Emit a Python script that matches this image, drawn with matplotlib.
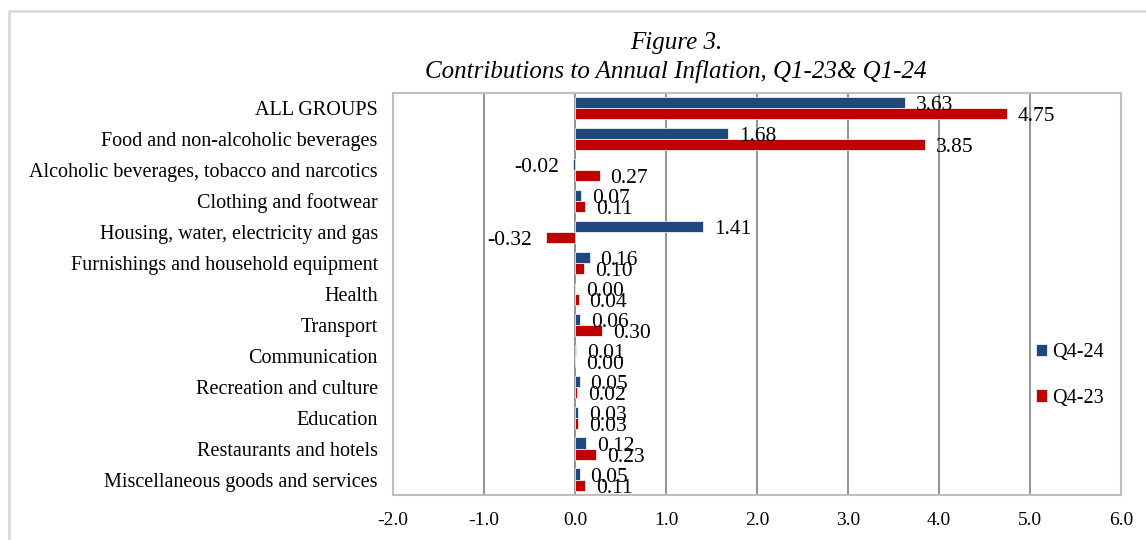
## --- CONTRIBUTIONS TO ANNUAL INFLATION --- ##
import matplotlib.pyplot as plt
import numpy as np
from matplotlib.patches import Rectangle

# -- DATA -- #
categories = ['ALL GROUPS', 'Food and non-alcoholic beverages',
              'Alcoholic beverages, tobacco and narcotics', 'Clothing and footwear',
              'Housing, water, electricity and gas', 'Furnishings and household equipment',
              'Health', 'Transport', 'Communication', 'Recreation and culture',
              'Education', 'Restaurants and hotels', 'Miscellaneous goods and services']
q4_24 = [3.63, 1.68, -0.02, 0.07, 1.41, 0.16, 0.00, 0.06, 0.01, 0.05, 0.03, 0.12, 0.05]
q4_23 = [4.75, 3.85, 0.27, 0.11, -0.32, 0.10, 0.04, 0.30, 0.00, 0.02, 0.03, 0.23, 0.11]
series_names = ['Q4-24', 'Q4-23']
xticks = np.arange(-2, 7, 1)

# -- STYLE -- #
plt.rcParams['font.family'] = ['Liberation Serif', 'DejaVu Serif']
blue = '#1f497d'
red = '#c00000'

fig = plt.figure(figsize=(11.46, 5.4), dpi=100)
ax = fig.add_axes([0.343, 0.0833, 0.635, 0.745])

# outer light border
fig.patches.append(Rectangle((0.008, -0.1), 1.1, 1.08, transform=fig.transFigure,
                             fill=False, edgecolor='#d9d9d9', linewidth=2))

n = len(categories)
y = np.arange(n)
h = 0.36
ax.barh(y - h / 2, q4_24, height=h, color=blue, edgecolor='white', linewidth=0.5,
        label=series_names[0], zorder=3)
ax.barh(y + h / 2, q4_23, height=h, color=red, edgecolor='white', linewidth=0.5,
        label=series_names[1], zorder=3)

# value labels
for yy, v in zip(list(y - h / 2) + list(y + h / 2), q4_24 + q4_23):
    if v < 0:
        ax.text(v - 0.15, yy + 0.1, '%.2f' % v, ha='right', va='center', fontsize=15.5)
    else:
        ax.text(v + 0.12, yy + 0.1, '%.2f' % v, ha='left', va='center', fontsize=15.5)

ax.set_xlim(-2, 6)
ax.set_ylim(n - 0.5, -0.5)
ax.set_xticks(xticks)
ax.set_xticklabels(['%.1f' % t for t in xticks], fontsize=14)
ax.set_yticks(y)
ax.set_yticklabels(categories, fontsize=14.5)
ax.tick_params(axis='y', length=0, pad=11)
ax.tick_params(axis='x', length=0, pad=12)
ax.grid(axis='x', color='#7f7f7f', linewidth=1.2, zorder=0)
for s in ax.spines.values():
    s.set_color('#bfbfbf')
    s.set_linewidth(1.5)

fig.text(0.59, 0.92, 'Figure 3.', ha='center', va='center', fontsize=18, style='italic')
fig.text(0.59, 0.868, 'Contributions to Annual Inflation, Q1-23& Q1-24', ha='center',
         va='center', fontsize=18, style='italic')

ax.legend(loc='center left', bbox_to_anchor=(0.869, 0.297), frameon=False, fontsize=14.5,
          handlelength=0.55, handleheight=0.55, handletextpad=0.25, labelspacing=1.3,
          borderpad=0)

fig.savefig('out.png', dpi=100)
